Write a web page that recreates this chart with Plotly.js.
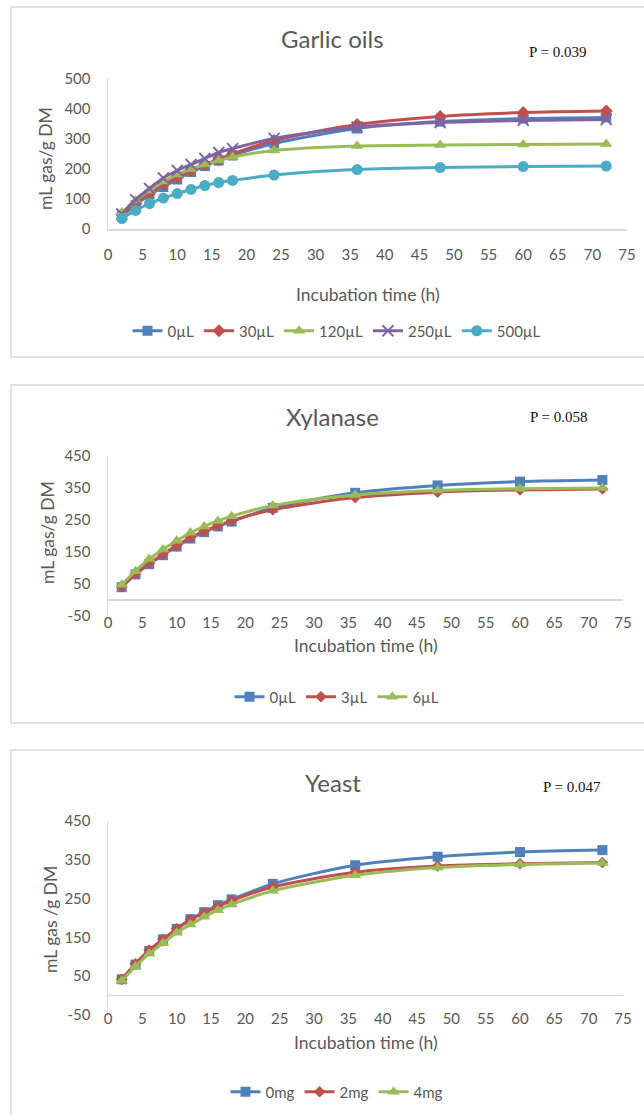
<!DOCTYPE html>
<html>
<head>
<meta charset="utf-8">
<script src="https://cdn.plot.ly/plotly-3.0.1.min.js"></script>
<style>html,body{margin:0;padding:0;background:#fff;}#chart{width:644px;height:1115px;}</style>
</head>
<body>
<div id="chart"></div>
<script>
// ---------- data ----------
var hours = [2, 4, 6, 8, 10, 12, 14, 16, 18, 24, 36, 48, 60, 72];
var xTicks = [0, 5, 10, 15, 20, 25, 30, 35, 40, 45, 50, 55, 60, 65, 70, 75];
var yTicksGarlic = [0, 100, 200, 300, 400, 500];
var yTicksOther = [-50, 50, 150, 250, 350, 450];

var garlicNames = ["0µL", "30µL", "120µL", "250µL", "500µL"];
var garlic0   = [45, 80, 115, 140, 165, 190, 210, 228, 245, 285, 335, 358, 368, 372];
var garlic30  = [48, 85, 120, 148, 172, 195, 215, 232, 250, 295, 348, 375, 388, 393];
var garlic120 = [55, 95, 128, 158, 182, 200, 215, 228, 240, 262, 277, 280, 282, 283];
var garlic250 = [50, 98, 135, 170, 195, 215, 235, 255, 268, 302, 340, 355, 362, 365];
var garlic500 = [35, 62, 85, 103, 118, 132, 145, 155, 162, 180, 198, 205, 208, 210];

var xylNames = ["0µL", "3µL", "6µL"];
var xyl0 = [40, 80, 112, 140, 167, 192, 212, 230, 245, 288, 335, 358, 370, 375];
var xyl3 = [42, 82, 115, 143, 170, 195, 215, 232, 248, 282, 320, 337, 344, 347];
var xyl6 = [48, 90, 128, 158, 185, 210, 230, 247, 262, 295, 328, 342, 348, 350];

var yeastNames = ["0mg", "2mg", "4mg"];
var yeast0 = [42, 80, 115, 145, 172, 197, 215, 233, 248, 288, 336, 358, 370, 375];
var yeast2 = [42, 82, 117, 145, 172, 195, 213, 230, 245, 280, 318, 334, 340, 343];
var yeast4 = [38, 75, 108, 135, 162, 183, 203, 220, 235, 270, 310, 330, 338, 342];

var panelTitles = ["Garlic oils", "Xylanase", "Yeast"];
var pTexts = ["P = 0.039", "P = 0.058", "P = 0.047"];
var yTitles = ["mL gas/g DM", "mL gas/g DM", "mL gas /g DM"];
var xTitle = "Incubation time (h)";

// ---------- styles ----------
var W = 644, H = 1115;
function px(v) { return v / W; }
function py(v) { return 1 - v / H; }
var FONT = "Lato, 'Open Sans', sans-serif";
var GRAY = "#595959";
var AXC = "#D9D9D9";
var C = {blue: "#4F81BD", red: "#C0504D", green: "#9BBB59", purple: "#8064A2", cyan: "#4BACC6"};

function tr(y, name, color, sym, size, xa, ya, lg, extraMarker) {
  var m = {symbol: sym, size: size, color: color};
  if (extraMarker) { for (var k in extraMarker) m[k] = extraMarker[k]; }
  return {
    x: hours, y: y, name: name, type: "scatter", mode: "lines+markers",
    line: {color: color, width: 3, shape: "spline", smoothing: 0.8},
    marker: m, xaxis: xa, yaxis: ya, legend: lg
  };
}

var data = [
  tr(garlic0, garlicNames[0], C.blue, "square", 10, "x", "y", "legend"),
  tr(garlic30, garlicNames[1], C.red, "diamond", 10, "x", "y", "legend"),
  tr(garlic120, garlicNames[2], C.green, "triangle-up", 11, "x", "y", "legend"),
  tr(garlic250, garlicNames[3], C.purple, "x-thin", 11, "x", "y", "legend", {line: {color: C.purple, width: 1.8}}),
  tr(garlic500, garlicNames[4], C.cyan, "circle", 11, "x", "y", "legend"),
  tr(xyl0, xylNames[0], C.blue, "square", 10, "x2", "y2", "legend2"),
  tr(xyl3, xylNames[1], C.red, "diamond", 9, "x2", "y2", "legend2"),
  tr(xyl6, xylNames[2], C.green, "triangle-up", 11, "x2", "y2", "legend2"),
  tr(yeast0, yeastNames[0], C.blue, "square", 10, "x3", "y3", "legend3"),
  tr(yeast2, yeastNames[1], C.red, "diamond", 9, "x3", "y3", "legend3"),
  tr(yeast4, yeastNames[2], C.green, "triangle-up", 11, "x3", "y3", "legend3")
];

// plot-area geometry (pixels)
var P = [
  {l: 108, r: 627, t: 79, b: 229, yr: [0, 500], yt: yTicksGarlic, xstand: 11, box: [11, 7, 700, 357], legY: 331, ttl: 38, pY: 52, pX: 558, xtY: 294, ytX: 45, ytY: 158},
  {l: 108, r: 623, t: 456, b: 616, yr: [-50, 450], yt: yTicksOther, xstand: -4, box: [11, 385, 700, 723], legY: 697, ttl: 417, pY: 417, pX: 559, xtY: 645, ytX: 47, ytY: 533},
  {l: 108, r: 623, t: 821, b: 1015, yr: [-50, 450], yt: yTicksOther, xstand: -7, box: [11, 750, 700, 1200], legY: 1092, ttl: 782, pY: 787, pX: 572, xtY: 1042, ytX: 50, ytY: 919}
];

var layout = {
  width: W, height: H,
  margin: {l: 0, r: 0, t: 0, b: 0},
  paper_bgcolor: "#fff", plot_bgcolor: "#fff",
  font: {family: FONT, color: GRAY},
  shapes: [], annotations: []
};

P.forEach(function (p, i) {
  var s = i === 0 ? "" : String(i + 1);
  layout["xaxis" + s] = {
    domain: [px(p.l), px(p.r)], range: [0, 75], anchor: "y" + s,
    tickvals: xTicks, ticktext: xTicks.map(String),
    showgrid: false, zeroline: false,
    showline: i === 0, linecolor: AXC, linewidth: 1.5,
    ticks: "", ticklabelstandoff: p.xstand,
    tickfont: {family: FONT, size: 15, color: GRAY}, fixedrange: true
  };
  layout["yaxis" + s] = {
    domain: [py(p.b), py(p.t)], range: p.yr, anchor: "x" + s,
    tickvals: p.yt, ticktext: p.yt.map(String), showgrid: false,
    zeroline: i !== 0, zerolinecolor: AXC, zerolinewidth: 1.5,
    showline: true, linecolor: AXC, linewidth: 1.5,
    ticks: "", ticklabelstandoff: 13,
    tickfont: {family: FONT, size: 15, color: GRAY}, fixedrange: true
  };
  layout["legend" + s] = {
    orientation: "h", x: px(337), xanchor: "center", y: py(p.legY), yanchor: "middle",
    font: {family: FONT, size: 15, color: GRAY}, bgcolor: "rgba(0,0,0,0)",
    itemwidth: 30, tracegroupgap: 0
  };
  layout.shapes.push({
    type: "rect", xref: "paper", yref: "paper",
    x0: px(p.box[0]), x1: px(p.box[2]), y0: py(p.box[3]), y1: py(p.box[1]),
    line: {color: AXC, width: 1.5}, fillcolor: "rgba(0,0,0,0)", layer: "below"
  });
  layout.annotations.push({
    text: panelTitles[i], xref: "paper", yref: "paper", x: px(333), y: py(p.ttl),
    xanchor: "center", yanchor: "middle", showarrow: false,
    font: {family: FONT, size: 24, color: GRAY}
  });
  layout.annotations.push({
    text: pTexts[i], xref: "paper", yref: "paper", x: px(p.pX), y: py(p.pY),
    xanchor: "center", yanchor: "middle", showarrow: false,
    font: {family: "'Liberation Serif', 'Times New Roman', serif", size: 15, color: "#111"}
  });
  layout.annotations.push({
    text: xTitle, xref: "paper", yref: "paper", x: px((p.l + p.r) / 2), y: py(p.xtY),
    xanchor: "center", yanchor: "middle", showarrow: false,
    font: {family: FONT, size: 17.5, color: GRAY}
  });
  layout.annotations.push({
    text: yTitles[i], xref: "paper", yref: "paper", x: px(p.ytX), y: py(p.ytY),
    xanchor: "center", yanchor: "middle", showarrow: false, textangle: -90,
    font: {family: FONT, size: 17.5, color: GRAY}
  });
});

Plotly.newPlot("chart", data, layout, {displayModeBar: false, staticPlot: true});
</script>
</body>
</html>
